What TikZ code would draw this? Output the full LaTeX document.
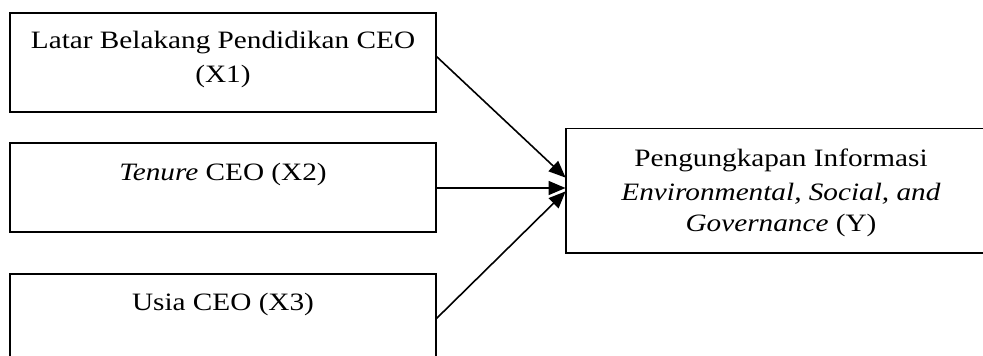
\documentclass[tikz,border=0pt]{standalone}
\usepackage{fontspec}
\setmainfont{Liberation Serif}[FakeStretch=1.17]
\usetikzlibrary{arrows.meta}
\tikzset{
  box/.style={draw=black, line width=1.6pt, fill=none, inner sep=0pt, outer sep=0pt, anchor=north west},
  txt/.style={font=\fontsize{25}{30}\selectfont, inner sep=0pt, anchor=base},
  conn/.style={line width=1.6pt, -{Triangle[length=17pt,width=14pt]}, shorten >=0.5pt}
}
\begin{document}
\begin{tikzpicture}[x=1pt,y=-1pt]
\useasboundingbox (0,0) rectangle (983,356);
\node[box, minimum width=426pt, minimum height=99pt] (b1) at (10,12.7) {};
\node[box, minimum width=426pt, minimum height=89pt] (b2) at (10,142.7) {};
\node[box, minimum width=426pt, minimum height=100pt] (b3) at (10,274) {};
\node[box, minimum width=440pt, minimum height=124.4pt] (y) at (566,128.3) {};
\node[txt] (t1a) at (223,48.5) {Latar Belakang Pendidikan CEO};
\node[txt] (t1b) at (223,82) {(X1)};
\node[txt] (t2) at (223,180) {\textit{Tenure} CEO (X2)};
\node[txt] (t3) at (223,310.5) {Usia CEO (X3)};
\node[txt] (ya) at (781,166.7) {Pengungkapan Informasi};
\node[txt] (yb) at (781,200) {\textit{Environmental, Social, and}};
\node[txt] (yc) at (781,231) {\textit{Governance} (Y)};
\coordinate (s1) at (436,56);
\coordinate (s2) at (436,188);
\coordinate (s3) at (436,319);
\coordinate (e1) at (566,178);
\coordinate (e2) at (566,188);
\coordinate (e3) at (566,191);
\draw[conn] (s1) -- (e1);
\draw[conn] (s2) -- (e2);
\draw[conn] (s3) -- (e3);
\end{tikzpicture}
\end{document}
